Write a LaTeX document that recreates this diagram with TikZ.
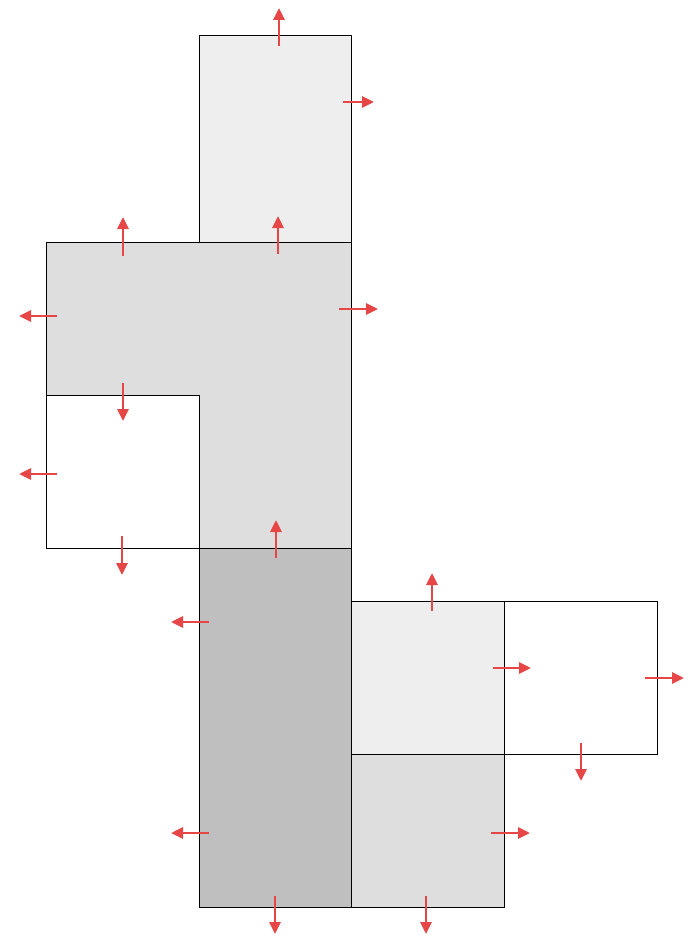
\documentclass[tikz,border=0pt]{standalone}
\usetikzlibrary{arrows.meta}
\definecolor{lightg}{HTML}{EEEEEE}
\definecolor{midg}{HTML}{DEDEDE}
\definecolor{darkg}{HTML}{BFBFBF}
\definecolor{arrred}{HTML}{E64646}
\tikzset{
  face/.style={draw=black, line width=0.8pt},
  push/.style={draw=arrred, line width=2.8pt, -{Triangle[length=12pt,width=11pt]}},
}
\begin{document}
\begin{tikzpicture}[x=1pt,y=-1pt]
\useasboundingbox (0,0) rectangle (699,936);
% faces
\path[face, fill=lightg] (199,35) rectangle (351,242);
\path[face, fill=midg] (46,242) -- (351,242) -- (351,548) -- (199,548) -- (199,395) -- (46,395) -- cycle;
\path[face, fill=white] (46,395) rectangle (199,548);
\path[face, fill=darkg] (199,548) rectangle (351,907);
\path[face, fill=lightg] (351,601) rectangle (504,754);
\path[face, fill=white] (504,601) rectangle (657,754);
\path[face, fill=midg] (351,754) rectangle (504,907);
% arrows
\draw[push] (279,46) -- (279,8);
\draw[push] (343,102) -- (374,102);
\draw[push] (123,256) -- (123,217);
\draw[push] (278,254) -- (278,216);
\draw[push] (57,316) -- (19,316);
\draw[push] (339,309) -- (378,309);
\draw[push] (123,383) -- (123,421);
\draw[push] (57,474) -- (19,474);
\draw[push] (122,536) -- (122,575);
\draw[push] (276,558) -- (276,520);
\draw[push] (209,622) -- (171,622);
\draw[push] (432,611) -- (432,573);
\draw[push] (493,668) -- (531,668);
\draw[push] (645,678) -- (684,678);
\draw[push] (581,743) -- (581,781);
\draw[push] (209,833) -- (171,833);
\draw[push] (491,833) -- (530,833);
\draw[push] (275,896) -- (275,934);
\draw[push] (426,896) -- (426,934);
\end{tikzpicture}
\end{document}
